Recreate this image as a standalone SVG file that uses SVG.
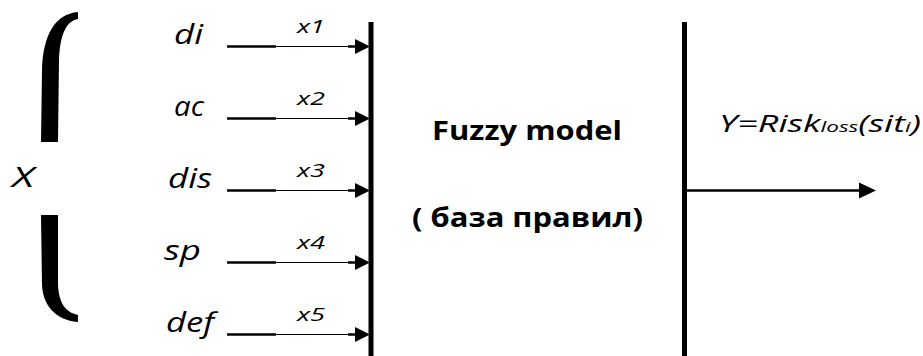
<svg xmlns="http://www.w3.org/2000/svg" width="923" height="356" viewBox="0 0 923 356">
  <defs>
    <style>
      .lbl { font-family: "Open Sans", "Liberation Sans", sans-serif; font-style: italic; font-size: 27px; fill: #000; }
      .xl { font-family: "Open Sans", "Liberation Sans", sans-serif; font-style: italic; font-size: 18px; fill: #000; }
      .bold { font-family: "Open Sans", "Liberation Sans", sans-serif; font-weight: bold; font-size: 27px; fill: #000; }
      .thick { stroke: #000; stroke-width: 2.5; fill: none; }
      .thin { stroke: #000; stroke-width: 1.2; fill: none; }
      .bar { stroke: #000; stroke-width: 5; fill: none; }
      .head { fill: #000; }
    </style>
  </defs>
  <rect width="923" height="356" fill="#fff"/>

  <g id="bracket">
    <path d="M78,12 L78,19 C66,21 60,35 59,60 L58,142 L41,142 L42,70 C43,35 55,14 78,12 Z" fill="#000"/>
    <path d="M41,215 L58,215 L58,285 C59,303 65,312 78,315 L78,322 C55,320 43,305 42,285 Z" fill="#000"/>
  </g>
  <g id="X"><text class="lbl" x="12" y="187" textLength="22" lengthAdjust="spacingAndGlyphs">X</text></g>

  <g id="in-di"><text class="lbl" x="174" y="43.5" textLength="29" lengthAdjust="spacingAndGlyphs">di</text></g>
  <g id="in-ac"><text class="lbl" x="174" y="115.5" textLength="30" lengthAdjust="spacingAndGlyphs">ac</text></g>
  <g id="in-dis"><text class="lbl" x="168" y="187.5" textLength="44" lengthAdjust="spacingAndGlyphs">dis</text></g>
  <g id="in-sp"><text class="lbl" x="164" y="259.5" textLength="37" lengthAdjust="spacingAndGlyphs">sp</text></g>
  <g id="in-def"><text class="lbl" x="166" y="331.5" textLength="48" lengthAdjust="spacingAndGlyphs">def</text></g>

  <g id="model">
    <line class="bar" x1="371" y1="22" x2="371" y2="356"/>
    <line class="bar" x1="684.5" y1="22" x2="684.5" y2="356"/>
    <text class="bold" x="432" y="140" textLength="190" lengthAdjust="spacingAndGlyphs">Fuzzy model</text>
    <text class="bold" x="412" y="227" textLength="231" lengthAdjust="spacingAndGlyphs">( база правил)</text>
  </g>

  <g id="output-label">
    <text class="lbl" x="719" y="132" style="font-size:24px" textLength="202" lengthAdjust="spacingAndGlyphs">Y=Risk<tspan style="font-size:15px">loss</tspan>(sit<tspan style="font-size:15px">i</tspan>)</text>
  </g>

  <g id="connectors">
    <g id="c1">
      <line class="thick" x1="227" y1="46.5" x2="276" y2="46.5"/>
      <line class="thin" x1="276" y1="46.5" x2="350" y2="46.5"/>
      <line class="thick" x1="348" y1="46.5" x2="358" y2="46.5"/>
      <polygon class="head" points="355,39 370,46.5 355,54"/>
      <text class="xl" x="297" y="33" textLength="28" lengthAdjust="spacingAndGlyphs">x1</text>
    </g>
    <g id="c2">
      <line class="thick" x1="227" y1="118.5" x2="276" y2="118.5"/>
      <line class="thin" x1="276" y1="118.5" x2="350" y2="118.5"/>
      <line class="thick" x1="348" y1="118.5" x2="358" y2="118.5"/>
      <polygon class="head" points="355,111 370,118.5 355,126"/>
      <text class="xl" x="297" y="105" textLength="28" lengthAdjust="spacingAndGlyphs">x2</text>
    </g>
    <g id="c3">
      <line class="thick" x1="227" y1="190.5" x2="276" y2="190.5"/>
      <line class="thin" x1="276" y1="190.5" x2="350" y2="190.5"/>
      <line class="thick" x1="348" y1="190.5" x2="358" y2="190.5"/>
      <polygon class="head" points="355,183 370,190.5 355,198"/>
      <text class="xl" x="297" y="177" textLength="28" lengthAdjust="spacingAndGlyphs">x3</text>
    </g>
    <g id="c4">
      <line class="thick" x1="227" y1="262.5" x2="276" y2="262.5"/>
      <line class="thin" x1="276" y1="262.5" x2="350" y2="262.5"/>
      <line class="thick" x1="348" y1="262.5" x2="358" y2="262.5"/>
      <polygon class="head" points="355,255 370,262.5 355,270"/>
      <text class="xl" x="297" y="249" textLength="28" lengthAdjust="spacingAndGlyphs">x4</text>
    </g>
    <g id="c5">
      <line class="thick" x1="227" y1="334.5" x2="276" y2="334.5"/>
      <line class="thin" x1="276" y1="334.5" x2="350" y2="334.5"/>
      <line class="thick" x1="348" y1="334.5" x2="358" y2="334.5"/>
      <polygon class="head" points="355,327 370,334.5 355,342"/>
      <text class="xl" x="297" y="321" textLength="28" lengthAdjust="spacingAndGlyphs">x5</text>
    </g>
    <g id="c-out">
      <line class="thick" x1="687" y1="190.5" x2="862" y2="190.5"/>
      <polygon class="head" points="859,182.5 876,190.5 859,198.5"/>
    </g>
  </g>
</svg>
